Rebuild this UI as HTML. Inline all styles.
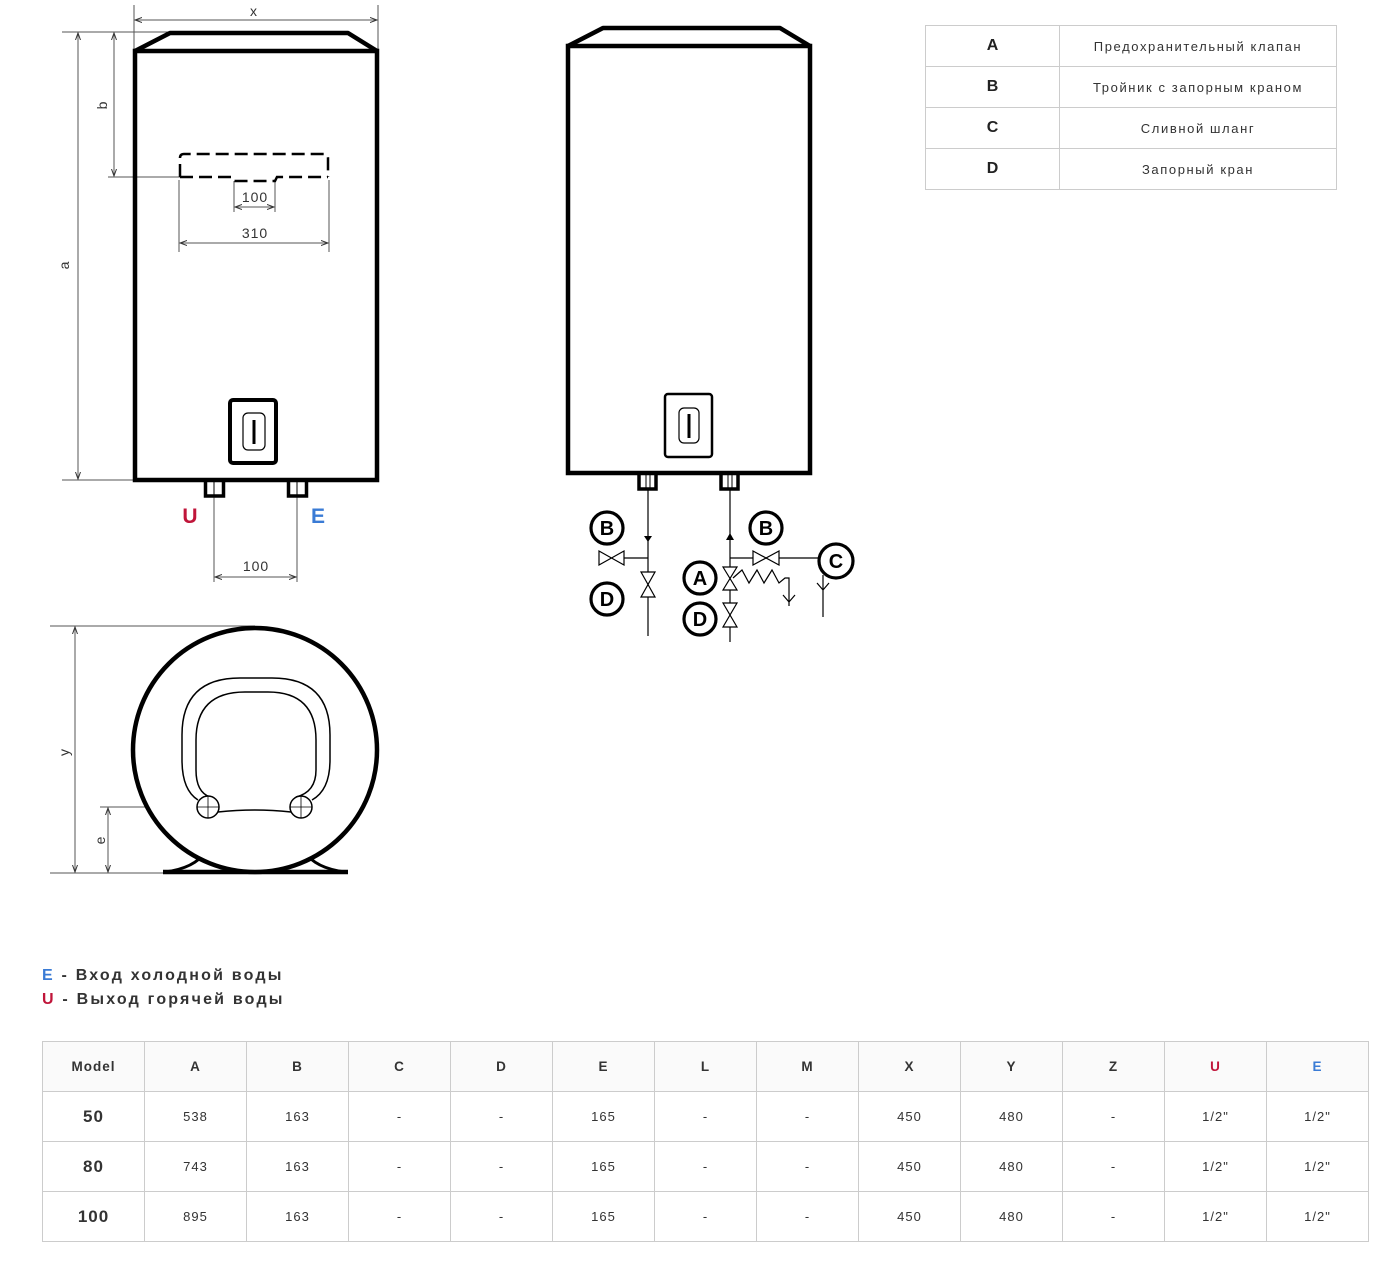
<!DOCTYPE html>
<html><head><meta charset="utf-8"><style>
html,body{margin:0;padding:0;background:#fff;width:1398px;height:1269px;overflow:hidden;position:relative;font-family:"Liberation Sans","DejaVu Sans",sans-serif;}
svg{position:absolute;left:0;top:0}
table{position:absolute;border-collapse:collapse;color:#333}
td{border:1px solid #ccc;text-align:center;padding:0}
#leg{left:925px;top:25px;width:412px}
#leg td{height:40px;font-size:13px;letter-spacing:1.6px}
#leg td.k{width:133px;font-size:16px;font-weight:bold;letter-spacing:0;color:#222}
#main{left:42px;top:1041px;width:1327px;table-layout:fixed}
#main td{height:49px;font-size:13px;letter-spacing:1px}
#main tr.h td{background:#fafafa;font-weight:bold;font-size:13.5px;color:#333}
#main tr.h td.r{color:#c0153a}
#main tr.h td.b{color:#3a7bd5}
#main td.m{font-weight:bold;font-size:17px;letter-spacing:1px}
.lt{position:absolute;left:42px;font-size:16px;font-weight:bold;letter-spacing:2.2px;color:#333}
.r{color:#c0153a}.b{color:#3a7bd5}
</style></head><body>
<svg width="1398" height="1269" viewBox="0 0 1398 1269" font-family="Liberation Sans, sans-serif">
<defs>
<marker id="ar" markerWidth="8" markerHeight="8" refX="7" refY="4" orient="auto-start-reverse" markerUnits="userSpaceOnUse"><path d="M0,1.5 L7,4 L0,6.5" fill="none" stroke="#333" stroke-width="1"/></marker>
</defs>
<g stroke="#555" stroke-width="1" fill="none">
<line x1="134" y1="5" x2="134" y2="50"/><line x1="378" y1="5" x2="378" y2="50"/>
<line x1="135" y1="20" x2="377" y2="20" marker-start="url(#ar)" marker-end="url(#ar)"/>
<line x1="62" y1="32" x2="170" y2="32"/><line x1="62" y1="480" x2="135" y2="480"/>
<line x1="78" y1="33" x2="78" y2="479" marker-start="url(#ar)" marker-end="url(#ar)"/>
<line x1="114" y1="33" x2="114" y2="176" marker-start="url(#ar)" marker-end="url(#ar)"/>
<line x1="108" y1="177" x2="180" y2="177"/>
<line x1="234" y1="181" x2="234" y2="212"/><line x1="275" y1="181" x2="275" y2="212"/>
<line x1="235" y1="207" x2="274" y2="207" marker-start="url(#ar)" marker-end="url(#ar)"/>
<line x1="179" y1="180" x2="179" y2="252"/><line x1="329" y1="180" x2="329" y2="252"/>
<line x1="180" y1="243" x2="328" y2="243" marker-start="url(#ar)" marker-end="url(#ar)"/>
<line x1="214" y1="497" x2="214" y2="582"/><line x1="297" y1="497" x2="297" y2="582"/>
<line x1="215" y1="577" x2="296" y2="577" marker-start="url(#ar)" marker-end="url(#ar)"/>
<line x1="50" y1="626" x2="255" y2="626"/><line x1="50" y1="873" x2="165" y2="873"/>
<line x1="75" y1="627" x2="75" y2="872" marker-start="url(#ar)" marker-end="url(#ar)"/>
<line x1="100" y1="807" x2="208" y2="807"/>
<line x1="108" y1="808" x2="108" y2="872" marker-start="url(#ar)" marker-end="url(#ar)"/>
<line x1="208" y1="807" x2="208" y2="848"/><line x1="301" y1="807" x2="301" y2="848"/>
<line x1="209" y1="840" x2="300" y2="840" marker-start="url(#ar)" marker-end="url(#ar)"/>
</g>
<g fill="#333" font-size="14" text-anchor="middle" letter-spacing="1">
<text x="254" y="16">x</text>
<text transform="translate(69,265) rotate(-90)">a</text>
<text transform="translate(107,105) rotate(-90)">b</text>
<text x="255" y="202">100</text>
<text x="255" y="238">310</text>
<text x="256" y="571">100</text>
<text transform="translate(69,752) rotate(-90)">y</text>
<text transform="translate(105,840) rotate(-90)">e</text>
<text x="254" y="835">100</text>
</g>
<g stroke="#000" fill="none">
<rect x="135" y="51" width="242" height="429" stroke-width="4.5"/>
<path d="M135,51 L170,33 L348,33 L377,51" stroke-width="4.5" stroke-linejoin="round"/>
<path d="M180,177 L180,158 Q180,154 184,154 L324,154 Q328,154 328,158 L328,177" stroke-width="2.5" stroke-dasharray="13,6"/>
<path d="M180,177 L232,177 L234,181 L275,181 L277,177 L328,177" stroke-width="2.5" stroke-dasharray="13,6"/>
<rect x="230" y="400" width="46" height="63" rx="3" stroke-width="4"/>
<rect x="243" y="413" width="22" height="37" rx="5" stroke-width="1.2"/>
<line x1="254" y1="420" x2="254" y2="444" stroke-width="3"/>
<rect x="205.5" y="480" width="18" height="16" stroke-width="3.5"/>
<rect x="288.5" y="480" width="18" height="16" stroke-width="3.5"/>
<line x1="214" y1="481" x2="214" y2="495" stroke-width="1"/><line x1="297" y1="481" x2="297" y2="495" stroke-width="1"/>
</g>
<text x="190" y="523" fill="#c0153a" font-size="21" font-weight="bold" text-anchor="middle">U</text>
<text x="318" y="523" fill="#3a7bd5" font-size="21" font-weight="bold" text-anchor="middle">E</text>
<g stroke="#000" fill="none">
<rect x="568" y="46" width="242" height="427" stroke-width="4.5"/>
<path d="M568,46 L603,28 L780,28 L810,46" stroke-width="4.5" stroke-linejoin="round"/>
<rect x="665" y="394" width="47" height="63" rx="3" stroke-width="2.5"/>
<rect x="679" y="408" width="20" height="35" rx="5" stroke-width="1.2"/>
<line x1="689" y1="414" x2="689" y2="438" stroke-width="3"/>
<rect x="639" y="473" width="17" height="16" stroke-width="3.5"/>
<rect x="721" y="473" width="17" height="16" stroke-width="3.5"/>
<line x1="646" y1="474" x2="646" y2="488" stroke-width="1"/><line x1="650" y1="474" x2="650" y2="488" stroke-width="1"/>
<line x1="728" y1="474" x2="728" y2="488" stroke-width="1"/><line x1="732" y1="474" x2="732" y2="488" stroke-width="1"/>
<g stroke-width="1.2">
<line x1="648" y1="489" x2="648" y2="636"/>
<line x1="624" y1="558" x2="648" y2="558"/>
<path d="M599,551 L624,565 L624,551 L599,565 Z"/>
<path d="M641,572 L655,597 L641,597 L655,572 Z" fill="#fff"/>
<line x1="730" y1="489" x2="730" y2="642"/>
<line x1="730" y1="558" x2="819" y2="558"/>
<path d="M753,551 L779,565 L779,551 L753,565 Z" fill="#fff"/>
<path d="M723,567 L737,590 L723,590 L737,567 Z" fill="#fff"/>
<path d="M723,603 L737,627 L723,627 L737,603 Z" fill="#fff"/>
<path d="M733,578 L742,570 L749,583 L757,570 L764,583 L772,570 L779,583 L785,578 L789,578 L789,606"/>
<path d="M783,595 L789,602 L795,595"/>
<line x1="823" y1="575" x2="823" y2="617"/>
<path d="M817,583 L823,590 L829,583"/>
</g>
<g stroke-width="3.2">
<circle cx="607" cy="528" r="16"/><circle cx="607" cy="599" r="16"/>
<circle cx="766" cy="528" r="16"/><circle cx="700" cy="578" r="16"/>
<circle cx="700" cy="619" r="16"/><circle cx="836" cy="561" r="17"/>
</g>
</g>
<path d="M644,536 L652,536 L648,542 Z" fill="#000"/>
<path d="M726,540 L734,540 L730,533 Z" fill="#000"/>
<g font-size="20" font-weight="bold" text-anchor="middle" fill="#000">
<text x="607" y="535">B</text><text x="607" y="606">D</text><text x="766" y="535">B</text>
<text x="700" y="585">A</text><text x="700" y="626">D</text><text x="836" y="568">C</text>
</g>
<g stroke="#000" fill="none">
<path d="M165,872 Q195,868 205,852" stroke-width="3"/>
<path d="M345,872 Q315,868 305,852" stroke-width="3"/>
<line x1="163" y1="872" x2="348" y2="872" stroke-width="4.5"/>
<circle cx="255" cy="750" r="122" stroke-width="4.5" fill="#fff"/>
<path d="M198,800 Q182,790 182,760 L182,735 Q182,678 240,678 L272,678 Q330,678 330,735 L330,760 Q330,790 312,800" stroke-width="1.5"/>
<path d="M210,797 Q196,792 196,770 L196,740 Q196,692 245,692 L268,692 Q316,692 316,740 L316,770 Q316,792 296,797" stroke-width="1.5"/>
<path d="M218,812 Q255,808 291,812" stroke-width="1.5"/>
<circle cx="208" cy="807" r="11" stroke-width="1.5" fill="#fff"/>
<circle cx="301" cy="807" r="11" stroke-width="1.5" fill="#fff"/>
<path d="M197,807 L219,807 M208,796 L208,818 M290,807 L312,807 M301,796 L301,818" stroke-width="0.8"/>
</g>
</svg>

<table id="leg">
<tr><td class="k">A</td><td>Предохранительный клапан</td></tr>
<tr><td class="k">B</td><td>Тройник с запорным краном</td></tr>
<tr><td class="k">C</td><td>Сливной шланг</td></tr>
<tr><td class="k">D</td><td>Запорный кран</td></tr>
</table>

<div class="lt" style="top:967px"><span class="b">E</span> - Вход холодной воды</div>
<div class="lt" style="top:991px"><span class="r">U</span> - Выход горячей воды</div>

<table id="main">
<tr class="h"><td>Model</td><td>A</td><td>B</td><td>C</td><td>D</td><td>E</td><td>L</td><td>M</td><td>X</td><td>Y</td><td>Z</td><td class="r">U</td><td class="b">E</td></tr>
<tr><td class="m">50</td><td>538</td><td>163</td><td>-</td><td>-</td><td>165</td><td>-</td><td>-</td><td>450</td><td>480</td><td>-</td><td>1/2"</td><td>1/2"</td></tr>
<tr><td class="m">80</td><td>743</td><td>163</td><td>-</td><td>-</td><td>165</td><td>-</td><td>-</td><td>450</td><td>480</td><td>-</td><td>1/2"</td><td>1/2"</td></tr>
<tr><td class="m">100</td><td>895</td><td>163</td><td>-</td><td>-</td><td>165</td><td>-</td><td>-</td><td>450</td><td>480</td><td>-</td><td>1/2"</td><td>1/2"</td></tr>
</table>
</body></html>
